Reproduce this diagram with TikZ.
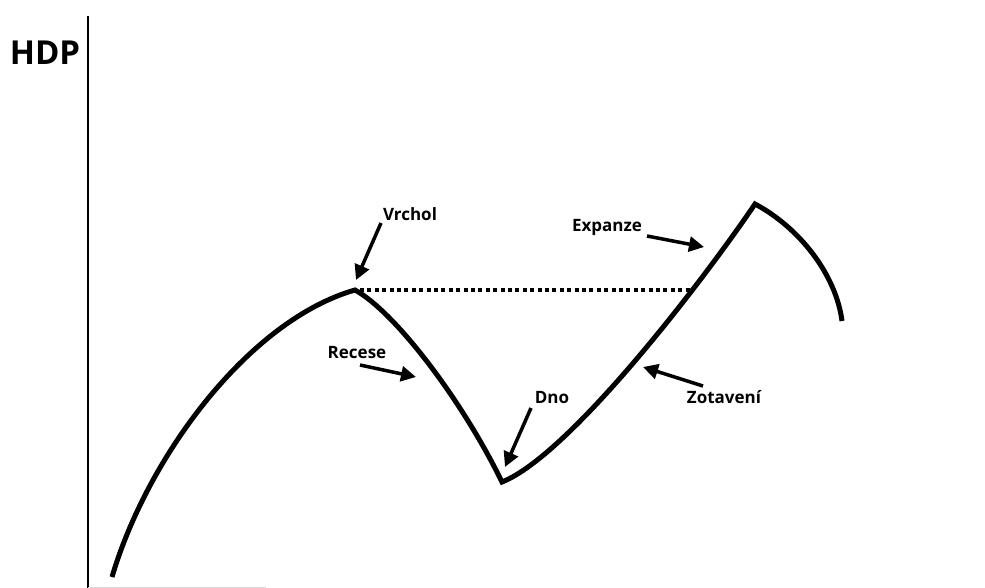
\documentclass[tikz,border=0pt]{standalone}
\usepackage{fontspec}
\setmainfont{Open Sans}
\usetikzlibrary{arrows.meta}
\begin{document}
\begin{tikzpicture}[x=1pt,y=-1pt,
  lbl/.style={font=\bfseries\fontsize{17}{19}\selectfont, inner sep=0pt},
  pointer/.style={line width=3.5pt, -{Triangle[length=15pt,width=15pt]}},
  curve/.style={line width=5pt, line join=miter},
  axis/.style={line width=2.5pt}]
\useasboundingbox (0,0) rectangle (985,588);
% axes
\coordinate (ytop) at (88,16);
\coordinate (ybot) at (88,588);
\draw[axis] (ytop) -- (ybot);
\coordinate (xa) at (88,587);
\coordinate (xb) at (266,587);
\draw[black!15, line width=1pt] (xa) -- (xb);
\node[font=\bfseries\fontsize{33}{36}\selectfont, inner sep=0pt] (hdp) at (45,53) {HDP};
% curve points
\coordinate (start) at (112,577);
\coordinate (peak) at (355,290);
\coordinate (trough) at (502,482);
\coordinate (peak2) at (755,204);
\coordinate (end) at (842,321);
\draw[curve] (start) .. controls (148,455) and (250,320) .. (peak)
  .. controls (395,312) and (462,400) .. (trough)
  .. controls (570,455) and (705,278) .. (peak2)
  .. controls (800,228) and (836,275) .. (end);
% dotted line
\coordinate (dotstart) at (360,290);
\coordinate (dotend) at (693,290);
\draw[line width=4pt, dash pattern=on 4pt off 3.4pt] (dotstart) -- (dotend);
% labels
\node[lbl] (vrchol) at (410,214) {Vrchol};
\node[lbl] (recese) at (357,353) {Recese};
\node[lbl] (dno) at (552,398) {Dno};
\node[lbl] (expanze) at (607,227) {Expanze};
\node[lbl] (zotaveni) at (724,397) {Zotavení};
% arrows
\coordinate (a1s) at (381,223); \coordinate (a1e) at (356,280);
\coordinate (a2s) at (360,365); \coordinate (a2e) at (416,377);
\coordinate (a3s) at (531,408); \coordinate (a3e) at (505,467);
\coordinate (a4s) at (647,236); \coordinate (a4e) at (704,247);
\coordinate (a5s) at (703,386); \coordinate (a5e) at (643,367);
\draw[pointer] (a1s) -- (a1e);
\draw[pointer] (a2s) -- (a2e);
\draw[pointer] (a3s) -- (a3e);
\draw[pointer] (a4s) -- (a4e);
\draw[pointer] (a5s) -- (a5e);
\end{tikzpicture}
\end{document}
